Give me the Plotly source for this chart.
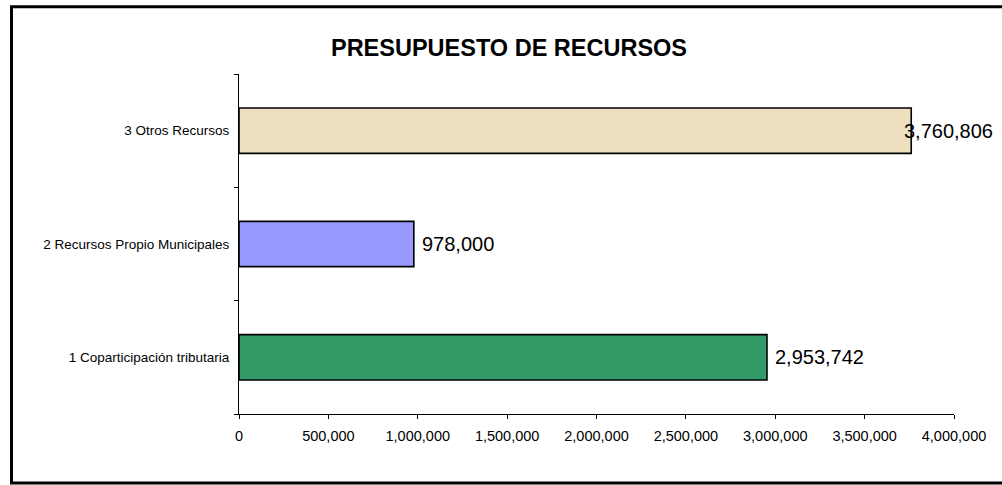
import plotly.graph_objects as go

categories = ["1 Coparticipación tributaria", "2 Recursos Propio Municipales", "3 Otros Recursos"]
values = [2953742, 978000, 3760806]
value_labels = ["2,953,742", "978,000", "3,760,806"]
bar_colors = ["#339966", "#9999FF", "#EEDFBF"]
x_tickvals = [0, 500000, 1000000, 1500000, 2000000, 2500000, 3000000, 3500000, 4000000]
x_ticktext = ["0", "500,000", "1,000,000", "1,500,000", "2,000,000", "2,500,000", "3,000,000", "3,500,000", "4,000,000"]
title_text = "PRESUPUESTO DE RECURSOS"

label_shift = [6, 6, -9]

fig = go.Figure()
fig.add_trace(go.Bar(
    y=categories, x=values, orientation="h",
    marker=dict(color=bar_colors, line=dict(color="black", width=1.6)),
    width=0.4, hoverinfo="skip",
))

for c, v, t, s in zip(categories, values, value_labels, label_shift):
    fig.add_annotation(x=v, y=c, text=t, xanchor="left", yanchor="middle",
                       showarrow=False, xshift=s,
                       font=dict(family="Arial, Liberation Sans", size=20, color="black"))

W, H = 1002, 485
L, R, T, B = 239, 954, 74, 414
pw, ph = R - L, B - T

def px(x):
    return (x - L) / pw

def py(y):
    return (B - y) / ph

fig.add_shape(type="rect", xref="paper", yref="paper",
              x0=px(11.5), x1=px(1010), y0=py(483), y1=py(6.8),
              line=dict(color="black", width=3), fillcolor="rgba(0,0,0,0)", layer="above")

fig.update_layout(
    width=W, height=H,
    margin=dict(l=L, r=W - R, t=T, b=H - B, pad=0),
    paper_bgcolor="white", plot_bgcolor="white",
    showlegend=False,
    font=dict(family="Arial, Liberation Sans", color="black"),
    title=dict(text="<b>" + title_text + "</b>", x=509 / W, xanchor="center",
               y=1 - 48 / H, yanchor="middle",
               font=dict(family="Arial, Liberation Sans", size=23.5, color="black")),
    xaxis=dict(range=[0, 4000000], tickvals=x_tickvals, ticktext=x_ticktext,
               showgrid=False, zeroline=False, showline=True, linecolor="black", linewidth=1,
               ticks="outside", ticklen=4, tickcolor="black", tickwidth=1,
               ticklabelstandoff=5,
               tickfont=dict(size=14.5, color="black")),
    yaxis=dict(type="category", categoryorder="array", categoryarray=categories,
               range=[-0.5, 2.5], showgrid=False, zeroline=False, showline=True,
               linecolor="black", linewidth=1, ticks="outside", ticklen=4,
               tickcolor="black", tickwidth=1, tickson="boundaries",
               ticklabelstandoff=6,
               tickfont=dict(size=13.5, color="black")),
)

fig.write_html("out.html", config={"displayModeBar": False},
               post_script="document.body.style.margin='0';document.body.style.overflow='hidden';")
